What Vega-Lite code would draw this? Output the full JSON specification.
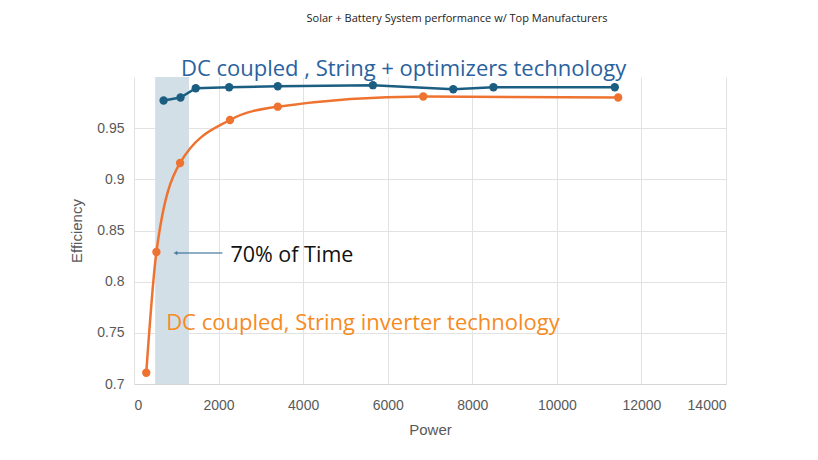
{
  "$schema": "https://vega.github.io/schema/vega-lite/v6.json",
  "autosize": "none",
  "width": 592,
  "height": 307,
  "padding": {"left": 134, "top": 77, "right": 92, "bottom": 76},
  "title": {
    "text": "Solar + Battery System performance w/ Top Manufacturers",
    "fontSize": 11,
    "fontWeight": "normal",
    "font": "Open Sans",
    "color": "#222222",
    "anchor": "middle",
    "dx": 27,
    "offset": 34
  },
  "datasets": {
    "eff": [
      {"series": "optimizers", "power": 700, "efficiency": 0.977},
      {"series": "optimizers", "power": 1100, "efficiency": 0.98},
      {"series": "optimizers", "power": 1460, "efficiency": 0.989},
      {"series": "optimizers", "power": 2250, "efficiency": 0.99},
      {"series": "optimizers", "power": 3400, "efficiency": 0.991},
      {"series": "optimizers", "power": 5650, "efficiency": 0.992},
      {"series": "optimizers", "power": 7550, "efficiency": 0.988},
      {"series": "optimizers", "power": 8500, "efficiency": 0.99},
      {"series": "optimizers", "power": 11370, "efficiency": 0.99},
      {"series": "inverter", "power": 290, "efficiency": 0.711},
      {"series": "inverter", "power": 530, "efficiency": 0.829},
      {"series": "inverter", "power": 1090, "efficiency": 0.916},
      {"series": "inverter", "power": 2270, "efficiency": 0.958},
      {"series": "inverter", "power": 3400, "efficiency": 0.971},
      {"series": "inverter", "power": 6840, "efficiency": 0.981},
      {"series": "inverter", "power": 11450, "efficiency": 0.98}
    ]
  },
  "encoding": {
    "x": {
      "field": "power",
      "type": "quantitative",
      "title": "Power",
      "scale": {"domain": [0, 14000], "nice": false},
      "axis": {"values": [0, 2000, 4000, 6000, 8000, 10000, 12000, 14000], "format": "d"}
    },
    "y": {
      "field": "efficiency",
      "type": "quantitative",
      "title": "Efficiency",
      "scale": {"domain": [0.7, 1.0], "nice": false, "zero": false},
      "axis": {"values": [0.7, 0.75, 0.8, 0.85, 0.9, 0.95], "format": ".2~f"}
    }
  },
  "layer": [
    {
      "data": {"values": [{"start": 500, "end": 1300}]},
      "mark": {"type": "rect", "color": "#d3dfe7"},
      "encoding": {
        "x": {"field": "start", "type": "quantitative"},
        "x2": {"field": "end"},
        "y": null
      }
    },
    {
      "data": {"name": "eff"},
      "transform": [{"filter": "datum.series == 'optimizers'"}],
      "mark": {"type": "line", "color": "#1c5e82", "strokeWidth": 2.5, "point": {"filled": true, "size": 70, "color": "#1c5e82"}}
    },
    {
      "data": {"name": "eff"},
      "transform": [{"filter": "datum.series == 'inverter'"}],
      "mark": {"type": "line", "color": "#ee7331", "strokeWidth": 2.5, "interpolate": "monotone", "point": {"filled": true, "size": 70, "color": "#ee7331"}}
    },
    {
      "data": {"values": [{"from": 2090, "to": 1000, "efficiency": 0.828}]},
      "mark": {"type": "rule", "color": "#1f5f8b", "strokeWidth": 1},
      "encoding": {
        "x": {"field": "from", "type": "quantitative"},
        "x2": {"field": "to"}
      }
    },
    {
      "data": {"values": [{"power": 980, "efficiency": 0.828}]},
      "mark": {"type": "point", "shape": "triangle-left", "filled": true, "size": 20, "color": "#1f5f8b"}
    },
    {
      "data": {"values": [{"power": 1110, "efficiency": 1.008, "label": "DC coupled , String + optimizers technology"}]},
      "mark": {"type": "text", "align": "left", "baseline": "middle", "font": "Open Sans", "fontSize": 22, "color": "#2a62a0"},
      "encoding": {"text": {"field": "label"}}
    },
    {
      "data": {"values": [{"power": 2280, "efficiency": 0.825, "label": "70% of Time"}]},
      "mark": {"type": "text", "align": "left", "baseline": "middle", "font": "Open Sans", "fontSize": 21.5, "color": "#111111"},
      "encoding": {"text": {"field": "label"}}
    },
    {
      "data": {"values": [{"power": 760, "efficiency": 0.76, "label": "DC coupled, String inverter technology"}]},
      "mark": {"type": "text", "align": "left", "baseline": "middle", "font": "Open Sans", "fontSize": 22, "color": "#f68b1f"},
      "encoding": {"text": {"field": "label"}}
    }
  ],
  "config": {
    "view": {"stroke": null},
    "font": "Open Sans",
    "axis": {
      "grid": true,
      "gridColor": "#e2e2e2",
      "domainColor": "#d6d6d6",
      "ticks": false,
      "labelFont": "Liberation Sans",
      "labelColor": "#595959",
      "labelFontSize": 14,
      "titleFont": "Liberation Sans",
      "titleColor": "#595959",
      "titleFontSize": 15,
      "titleFontWeight": "normal"
    },
    "axisX": {"labelPadding": 14, "titlePadding": 10},
    "axisY": {"labelPadding": 10, "titlePadding": 12, "domain": false}
  }
}
